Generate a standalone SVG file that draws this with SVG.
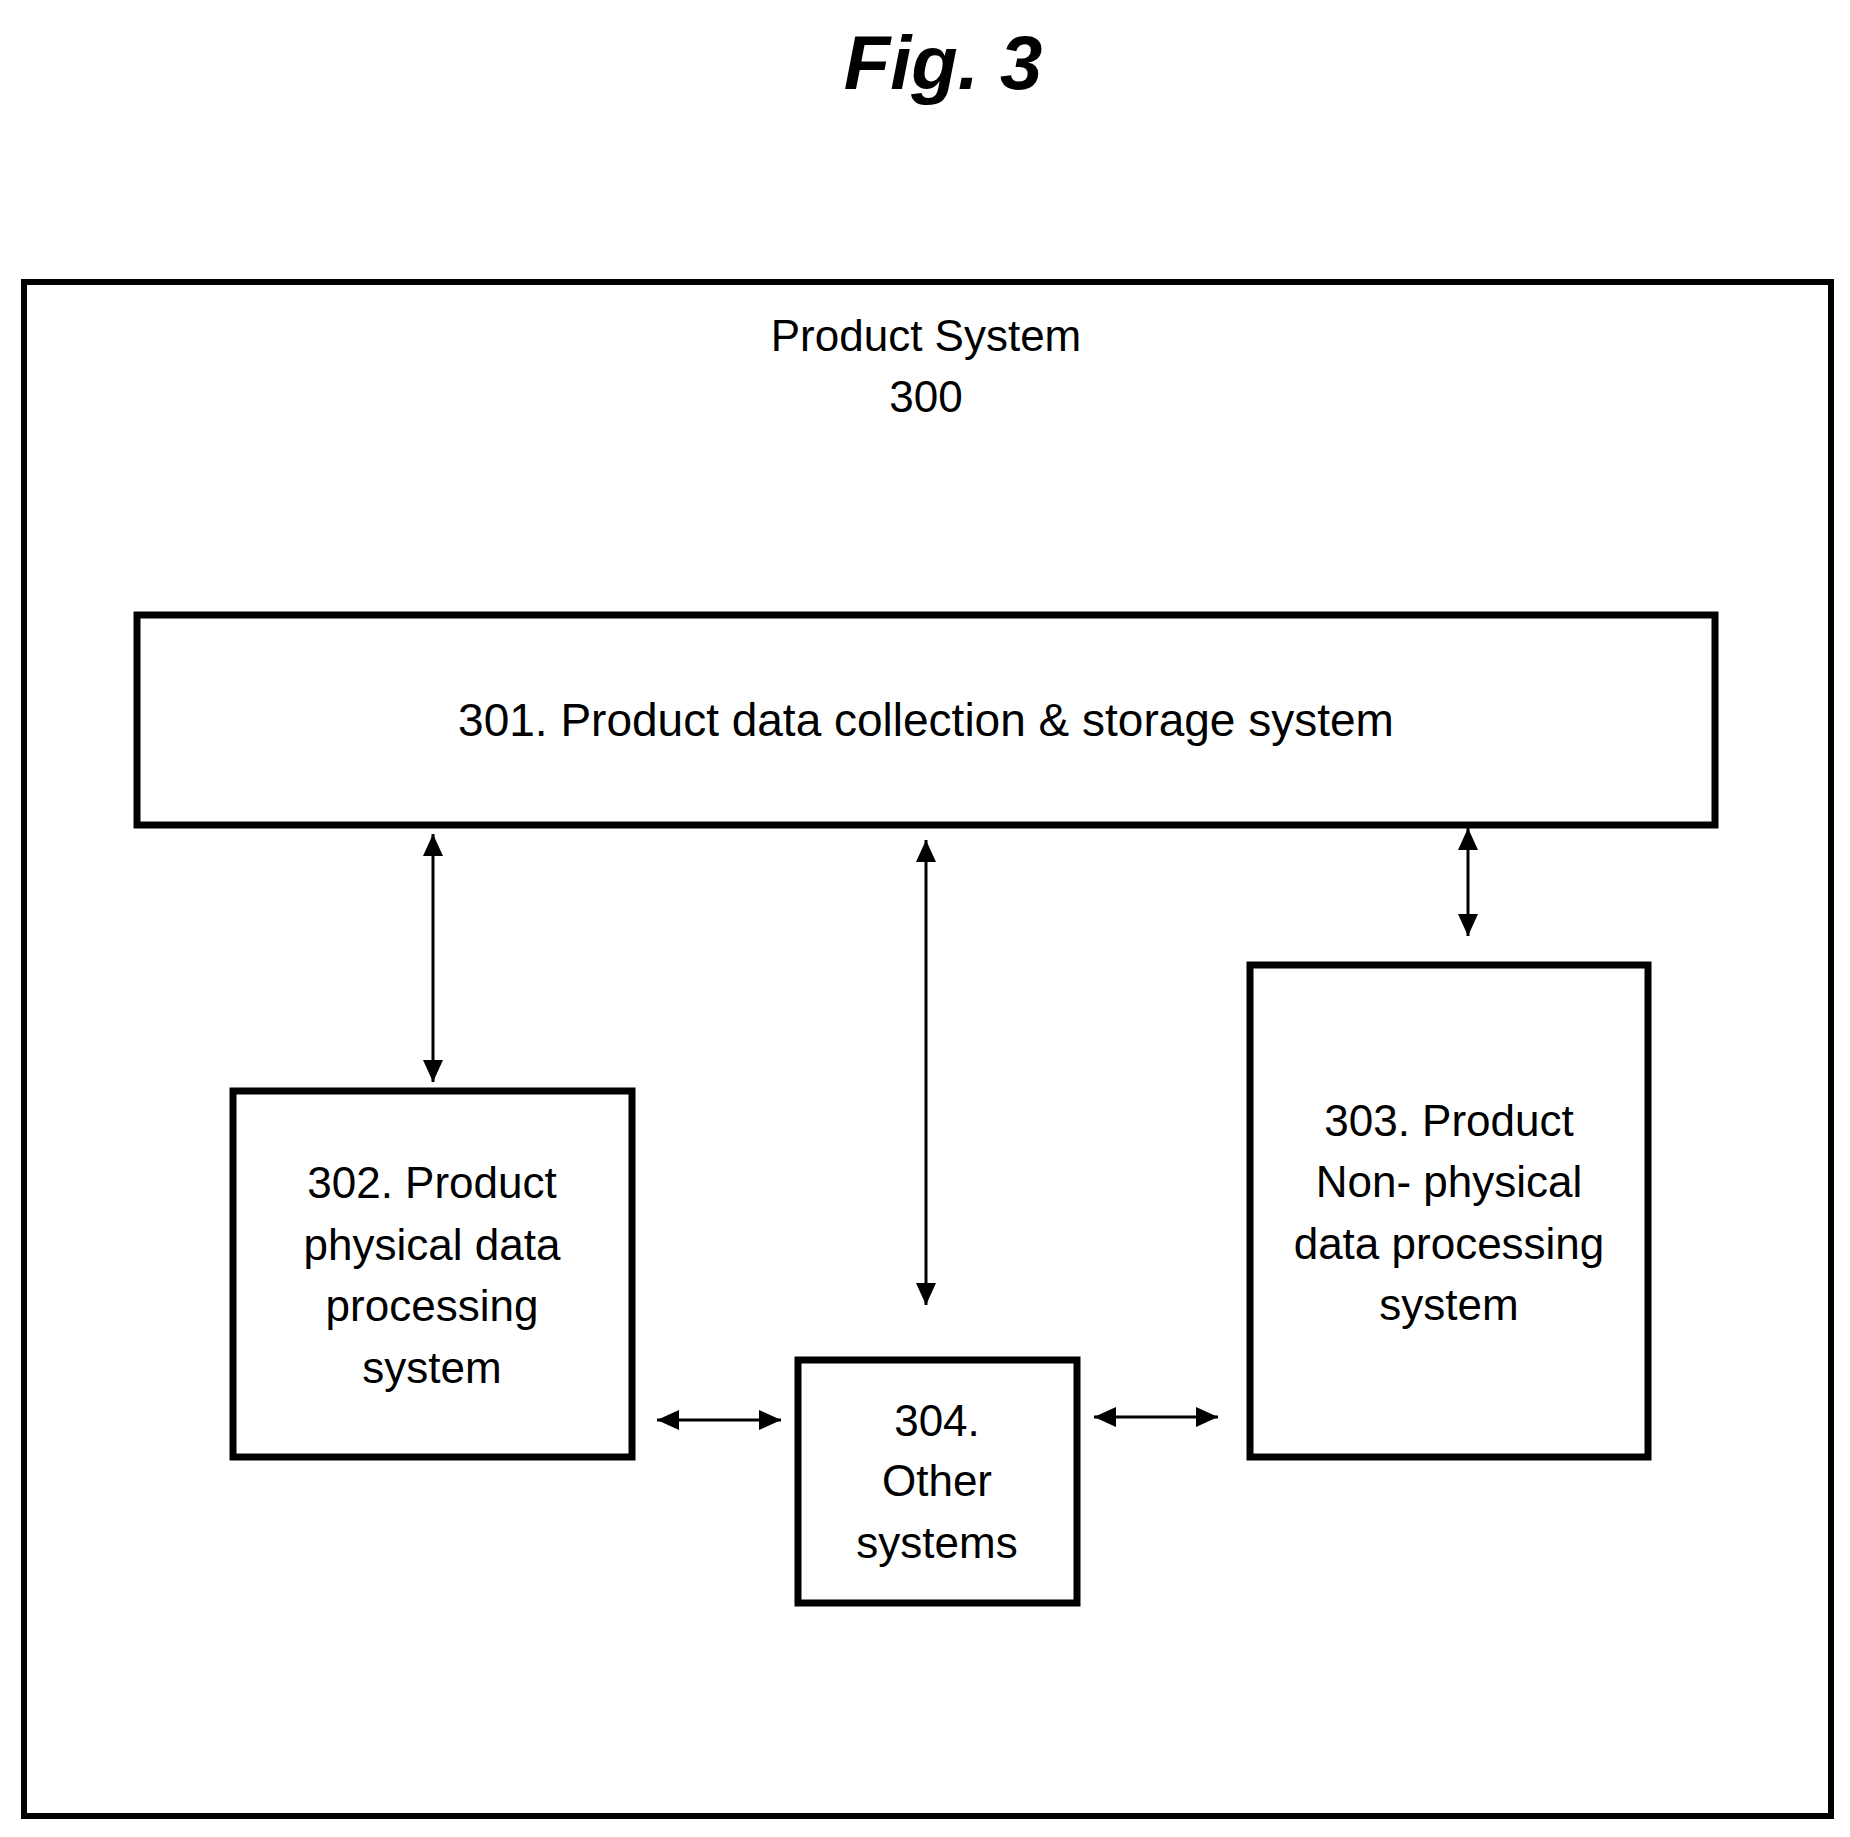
<svg xmlns="http://www.w3.org/2000/svg" width="1850" height="1837" viewBox="0 0 1850 1837">
<style>
.b{fill:none;stroke:#000;stroke-width:7}
.t{font-family:"Liberation Sans",Arial,sans-serif;font-size:44px;text-anchor:middle;fill:#000}
.c{stroke:#000;stroke-width:3;fill:none;marker-start:url(#a);marker-end:url(#a)}
</style>
<defs><marker id="a" viewBox="0 0 10 10" refX="10" refY="5" markerWidth="22" markerHeight="20" orient="auto-start-reverse" markerUnits="userSpaceOnUse" preserveAspectRatio="none"><path d="M0,0L10,5L0,10z"/></marker></defs>
<rect width="1850" height="1837" fill="#fff"/>
<text x="943" y="89" style="font-family:'Liberation Sans',Arial,sans-serif;font-size:76px;font-weight:bold;font-style:italic" text-anchor="middle">Fig. 3</text>
<g id="n300"><rect class="b" x="24" y="282" width="1807" height="1534" style="stroke-width:6"/>
<text class="t" x="926" y="351">Product System</text><text class="t" x="926" y="412">300</text></g>
<g id="n301"><rect class="b" x="137" y="615" width="1578" height="210"/><text class="t" x="926" y="736" style="font-size:46px">301. Product data collection &amp; storage system</text></g>
<g id="n302"><rect class="b" x="233" y="1091" width="399" height="366"/>
<text class="t" x="432" y="1198">302. Product</text><text class="t" x="432" y="1260">physical data</text><text class="t" x="432" y="1321">processing</text><text class="t" x="432" y="1383">system</text></g>
<g id="n303"><rect class="b" x="1250" y="965" width="398" height="492"/>
<text class="t" x="1449" y="1136">303. Product</text><text class="t" x="1449" y="1197">Non- physical</text><text class="t" x="1449" y="1259">data processing</text><text class="t" x="1449" y="1320">system</text></g>
<g id="n304"><rect class="b" x="798" y="1360" width="279" height="243"/>
<text class="t" x="937" y="1436">304.</text><text class="t" x="937" y="1496">Other</text><text class="t" x="937" y="1558">systems</text></g>
<g id="connectors">
<path class="c" d="M433,834V1082"/>
<path class="c" d="M926,840V1305"/>
<path class="c" d="M1468,828V936"/>
<path class="c" d="M657,1420H781"/>
<path class="c" d="M1094,1417H1218"/>
</g>
</svg>
